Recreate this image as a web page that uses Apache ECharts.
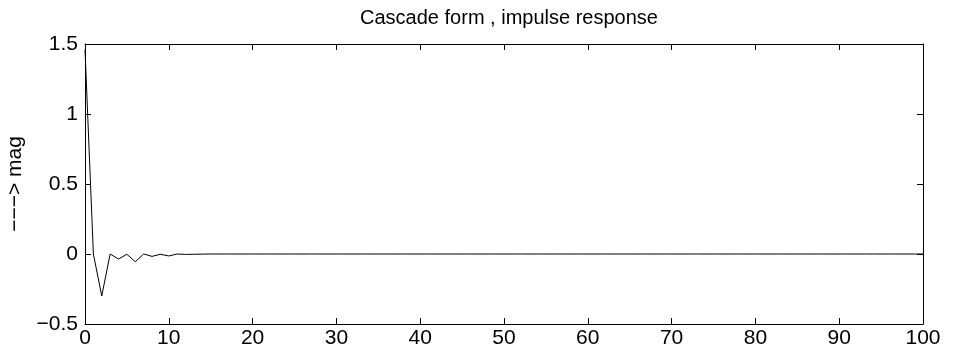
<!DOCTYPE html>
<html>
<head>
<meta charset="utf-8">
<script src="https://cdn.jsdelivr.net/npm/echarts@6/dist/echarts.min.js"></script>
<style>html,body{margin:0;padding:0;background:#fff}#c{width:955px;height:360px}</style>
</head>
<body>
<div id="c"></div>
<script>
const titleText = "Cascade form , impulse response";
const yName = "\u2212\u2212\u2212> mag";
const xTicks = [0, 10, 20, 30, 40, 50, 60, 70, 80, 90, 100];
const yTicks = [-0.5, 0, 0.5, 1, 1.5];
const headValues = [1.46, 0.0, -0.30, 0.0, -0.036, -0.002, -0.055, 0.0, -0.017, -0.002, -0.014, 0.0, -0.003, -0.002, -0.001];
const tailLength = 101 - headValues.length;
const tailValues = new Array(tailLength).fill(0);
const values = headValues.concat(tailValues);
const data = values.map((v, i) => [i, v]);

const chart = echarts.init(document.getElementById('c'), null, {renderer: 'canvas'});
const font = '"Liberation Sans", Arial, sans-serif';
const axisCommon = {
  axisLine: {show: true, onZero: false, lineStyle: {color: '#000', width: 1}},
  axisTick: {show: true, inside: true, length: 6, lineStyle: {color: '#000'}},
  splitLine: {show: false}
};
chart.setOption({
  animation: false,
  backgroundColor: '#fff',
  title: {
    text: titleText, left: 504, top: 3, textAlign: 'center',
    textStyle: {fontFamily: font, fontSize: 20, fontWeight: 'normal', color: '#000'}
  },
  grid: {left: 85, right: 32, top: 44, bottom: 36, containLabel: false, outerBoundsMode: 'none'},
  xAxis: [
    Object.assign({type: 'value', min: 0, max: 100, interval: 10, position: 'bottom',
      axisLabel: {fontFamily: font, fontSize: 21, color: '#000', margin: 4,
        formatter: v => xTicks.includes(v) ? String(v) : ''}}, axisCommon),
    Object.assign({type: 'value', min: 0, max: 100, interval: 10, position: 'top',
      axisLabel: {show: false}}, axisCommon)
  ],
  yAxis: [
    Object.assign({type: 'value', min: -0.5, max: 1.5, interval: 0.5, position: 'left',
      name: yName, nameLocation: 'middle', nameGap: 50, nameRotate: 90,
      nameTextStyle: {fontFamily: font, fontSize: 21, color: '#000'},
      axisLabel: {fontFamily: font, fontSize: 21, color: '#000', margin: 7,
        formatter: v => yTicks.includes(v) ? String(v).replace('-', '\u2212') : ''}}, axisCommon),
    Object.assign({type: 'value', min: -0.5, max: 1.5, interval: 0.5, position: 'right',
      axisLabel: {show: false}}, axisCommon)
  ],
  series: [{
    type: 'line', data: data, showSymbol: false, symbol: 'none',
    lineStyle: {color: '#000', width: 1}, xAxisIndex: 0, yAxisIndex: 0
  }]
});
</script>
</body>
</html>
